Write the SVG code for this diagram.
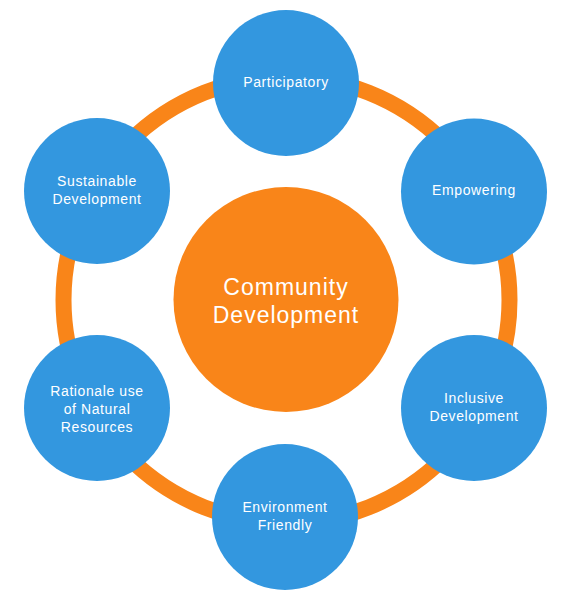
<svg xmlns="http://www.w3.org/2000/svg" width="570" height="600" viewBox="0 0 570 600">
<style>
.sat{fill:#3397df}
.t{font-family:"Liberation Sans",Arial,sans-serif;font-size:14px;letter-spacing:0.6px;fill:#fff;text-anchor:middle}
.c{font-family:"Liberation Sans",Arial,sans-serif;font-size:23px;letter-spacing:1px;fill:#fff;text-anchor:middle}
</style>
<rect width="570" height="600" fill="#fff"/>
<g id="connectors">
<circle cx="286.5" cy="300" r="223" fill="none" stroke="#f98519" stroke-width="16"/>
</g>
<g id="center">
<circle cx="286" cy="299.5" r="112.5" fill="#f98519"/>
<text class="c" x="286" y="295">Community</text>
<text class="c" x="286" y="323">Development</text>
</g>
<g id="participatory">
<circle class="sat" cx="286" cy="83" r="73"/>
<text class="t" x="286" y="87">Participatory</text>
</g>
<g id="empowering">
<circle class="sat" cx="474" cy="191.5" r="73"/>
<text class="t" x="474" y="195">Empowering</text>
</g>
<g id="inclusive">
<circle class="sat" cx="474" cy="408" r="73"/>
<text class="t" x="474" y="403">Inclusive</text>
<text class="t" x="474" y="421">Development</text>
</g>
<g id="environment">
<circle class="sat" cx="285" cy="517" r="73"/>
<text class="t" x="285" y="512">Environment</text>
<text class="t" x="285" y="530">Friendly</text>
</g>
<g id="rationale">
<circle class="sat" cx="97" cy="408" r="73"/>
<text class="t" x="97" y="396">Rationale use</text>
<text class="t" x="97" y="414">of Natural</text>
<text class="t" x="97" y="432">Resources</text>
</g>
<g id="sustainable">
<circle class="sat" cx="97" cy="191" r="73"/>
<text class="t" x="97" y="186">Sustainable</text>
<text class="t" x="97" y="204">Development</text>
</g>
</svg>
